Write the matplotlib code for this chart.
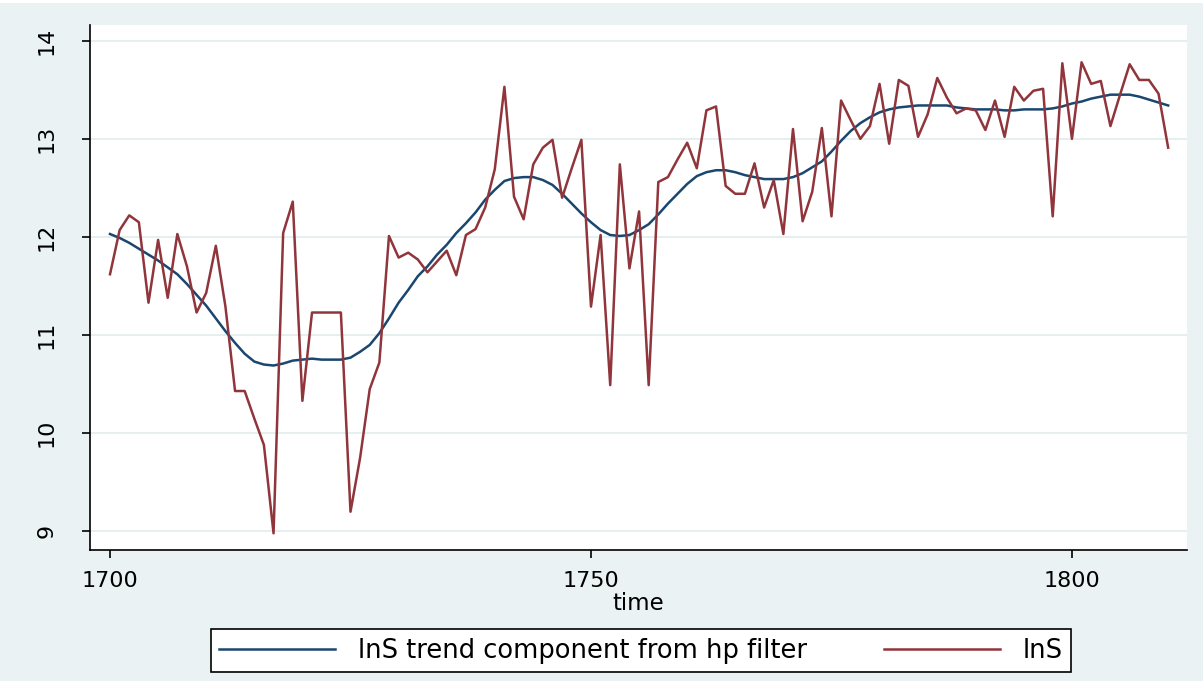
import matplotlib
matplotlib.use("Agg")
import matplotlib.pyplot as plt
from matplotlib.lines import Line2D
from matplotlib.patches import Rectangle

years = list(range(1700, 1811))

lnS = [
    11.62, 12.07, 12.22, 12.15, 11.33, 11.97, 11.38, 12.03, 11.70, 11.23,
    11.43, 11.91, 11.29, 10.43, 10.43, 10.15, 9.88, 8.98, 12.04, 12.36,
    10.33, 11.23, 11.23, 11.23, 11.23, 9.20, 9.75, 10.45, 10.72, 12.01,
    11.79, 11.84, 11.77, 11.64, 11.75, 11.86, 11.61, 12.02, 12.08, 12.30,
    12.69, 13.53, 12.41, 12.18, 12.74, 12.91, 12.99, 12.40, 12.70, 12.99,
    11.29, 12.02, 10.49, 12.74, 11.68, 12.26, 10.49, 12.56, 12.61, 12.79,
    12.96, 12.70, 13.29, 13.33, 12.52, 12.44, 12.44, 12.75, 12.30, 12.58,
    12.03, 13.10, 12.16, 12.46, 13.11, 12.21, 13.39, 13.19, 13.00, 13.13,
    13.56, 12.95, 13.60, 13.54, 13.02, 13.25, 13.62, 13.42, 13.26, 13.31,
    13.29, 13.09, 13.39, 13.02, 13.53, 13.39, 13.49, 13.51, 12.21, 13.77,
    13.00, 13.78, 13.56, 13.59, 13.13, 13.45, 13.76, 13.60, 13.60, 13.46,
    12.91,
]

lnS_trend = [
    12.03, 11.99, 11.94, 11.88, 11.82, 11.76, 11.69, 11.62, 11.52, 11.41,
    11.30, 11.17, 11.04, 10.92, 10.81, 10.73, 10.70, 10.69, 10.71, 10.74,
    10.75, 10.76, 10.75, 10.75, 10.75, 10.77, 10.83, 10.90, 11.02, 11.17,
    11.33, 11.46, 11.60, 11.70, 11.82, 11.92, 12.04, 12.14, 12.25, 12.38,
    12.48, 12.57, 12.60, 12.61, 12.61, 12.58, 12.53, 12.44, 12.34, 12.24,
    12.15, 12.07, 12.02, 12.01, 12.02, 12.07, 12.13, 12.23, 12.34, 12.44,
    12.54, 12.62, 12.66, 12.68, 12.68, 12.66, 12.63, 12.61, 12.59, 12.59,
    12.59, 12.61, 12.65, 12.71, 12.77, 12.87, 12.98, 13.08, 13.16, 13.22,
    13.27, 13.30, 13.32, 13.33, 13.34, 13.34, 13.34, 13.34, 13.32, 13.31,
    13.30, 13.30, 13.30, 13.29, 13.29, 13.30, 13.30, 13.30, 13.31, 13.33,
    13.36, 13.38, 13.41, 13.43, 13.45, 13.45, 13.45, 13.43, 13.40, 13.37,
    13.34,
]

x_ticks = [1700, 1750, 1800]
y_ticks = [9, 10, 11, 12, 13, 14]
x_label = "time"
trend_label = "lnS trend component from hp filter"
series_label = "lnS"

BG = "#EAF2F3"
NAVY = "#1A476F"
MAROON = "#90353B"

plt.rcParams["font.family"] = ["DejaVu Sans"]
FS = 16
LFS = 18.5

W, H = 1203, 681
fig = plt.figure(figsize=(W / 100, H / 100), dpi=100)
fig.patch.set_facecolor(BG)
fig.patches.append(Rectangle((0, 1 - 3 / H), 1, 3 / H, transform=fig.transFigure,
                             facecolor="white", edgecolor="none", zorder=0))

ax = fig.add_axes([90 / W, 1 - 550 / H, (1187 - 90) / W, (550 - 25) / H])
ax.set_facecolor("white")

ax.plot(years, lnS_trend, color=NAVY, lw=1.8, zorder=3)
ax.plot(years, lnS, color=MAROON, lw=1.8, zorder=4)

ax.set_xlim(1697.92, 1811.96)
ax.set_ylim(8.81, 14.16)
ax.set_xticks(x_ticks)
ax.set_yticks(y_ticks)
ax.set_xticklabels([str(v) for v in x_ticks], fontsize=FS)
ax.set_yticklabels([str(v) for v in y_ticks], fontsize=FS, rotation=90, va="center")

for side in ["top", "right"]:
    ax.spines[side].set_visible(False)
for side in ["left", "bottom"]:
    ax.spines[side].set_linewidth(1.2)
    ax.spines[side].set_color("black")

ax.tick_params(axis="both", length=6, width=1.2, color="black")
ax.tick_params(axis="x", pad=9)
ax.tick_params(axis="y", pad=18)
ax.grid(axis="y", color="#E4EEEF", lw=1.3, zorder=0)
ax.set_axisbelow(True)

ax.set_xlabel(x_label, fontsize=FS + 0.5, labelpad=1)

handles = [Line2D([], [], color=NAVY, lw=1.8), Line2D([], [], color=MAROON, lw=1.8)]
leg = fig.legend(handles, [trend_label, series_label], loc="center",
                 bbox_to_anchor=(641 / W, 1 - 650.5 / H), bbox_transform=fig.transFigure,
                 ncol=2, fontsize=LFS, frameon=True, fancybox=False, framealpha=1.0,
                 handlelength=4.5, handletextpad=0.9, columnspacing=3.0,
                 borderpad=0.32, borderaxespad=0)
leg.get_frame().set_edgecolor("black")
leg.get_frame().set_linewidth(1.2)
leg.get_frame().set_facecolor("white")

fig.savefig("out.png", dpi=100, facecolor=fig.get_facecolor())
